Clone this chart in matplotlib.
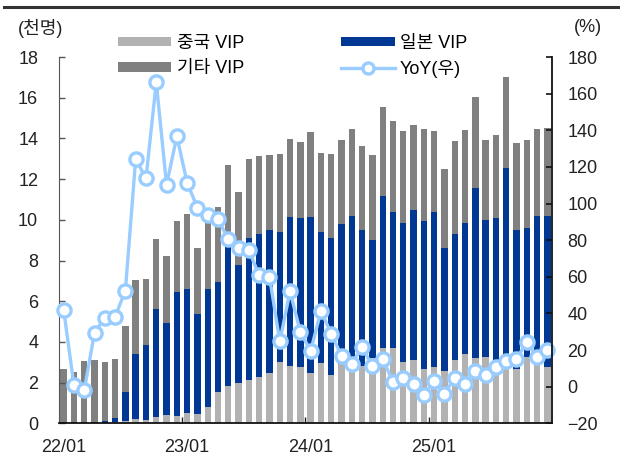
import matplotlib
matplotlib.use("Agg")
import matplotlib.pyplot as plt
import numpy as np
from matplotlib.lines import Line2D
from matplotlib.patches import Patch

plt.rcParams["font.family"] = ["Liberation Sans", "Noto Sans CJK KR"]

# 월별 VIP 방문객 (천명), 22/01 ~ 25/12
china = [0.03, 0.03, 0.03, 0.03, 0.03, 0.05, 0.13, 0.21, 0.16, 0.31, 0.41, 0.36,
         0.49, 0.44, 0.79, 1.56, 1.82, 1.97, 2.13, 2.26, 2.48, 3.03, 2.82, 2.78,
         2.46, 2.95, 2.38, 2.90, 2.87, 2.84, 3.23, 3.69, 3.72, 3.03, 3.11, 2.66,
         2.75, 2.57, 3.13, 3.39, 3.20, 3.28, 2.92, 3.16, 2.67, 3.28, 3.00, 2.75]
japan = [0.04, 0.03, 0.04, 0.04, 0.07, 0.23, 1.39, 3.20, 3.69, 5.31, 4.54, 6.10,
         6.13, 4.94, 5.80, 5.37, 6.92, 5.80, 6.98, 7.02, 7.03, 6.38, 7.34, 7.33,
         7.70, 6.43, 6.75, 6.90, 7.34, 6.64, 5.79, 7.49, 6.66, 6.79, 7.38, 7.29,
         7.63, 6.05, 6.18, 6.45, 8.37, 6.72, 7.15, 9.38, 6.81, 6.31, 7.18, 7.46]
other = [2.60, 2.48, 3.01, 3.04, 2.92, 2.90, 3.27, 3.61, 3.23, 3.43, 3.28, 3.49,
         3.66, 3.23, 3.51, 3.69, 3.93, 3.62, 3.87, 3.85, 3.69, 3.82, 3.79, 3.71,
         4.14, 3.90, 4.08, 4.12, 4.23, 4.16, 4.14, 4.34, 4.47, 4.56, 4.17, 4.49,
         3.98, 3.87, 4.58, 4.57, 4.45, 3.93, 4.11, 4.46, 4.29, 4.34, 4.30, 4.30]
# 전년동월대비 증감률 (%)
yoy = [42.1, 0.8, -2.0, 29.4, 37.6, 38.1, 52.5, 124.3, 113.7, 166.2, 110.1, 136.7,
       111.3, 97.7, 93.7, 91.3, 80.7, 75.8, 74.5, 60.7, 60.0, 24.8, 52.0, 29.9,
       19.5, 41.2, 29.0, 16.8, 12.6, 21.7, 11.1, 15.3, 2.5, 5.0, 1.7, -4.5,
       3.0, -4.0, 5.0, 1.7, 8.8, 6.4, 11.0, 14.0, 15.2, 24.4, 16.4, 20.1]

tick_pos = [0, 12, 24, 36]
tick_labels = ["22/01", "23/01", "24/01", "25/01"]

C_CHINA = "#B2B2B2"
C_JAPAN = "#003893"
C_OTHER = "#808080"
C_YOY = "#99CCFF"

W, H = 620, 457
fig = plt.figure(figsize=(W / 100, H / 100), dpi=100)
ax = fig.add_axes([59 / W, 1 - 423.3 / H, (552 - 59) / W, (423.3 - 57) / H])

x = np.arange(len(china))
china = np.array(china)
japan = np.array(japan)
other = np.array(other)

ax.bar(x, china, width=0.62, color=C_CHINA, linewidth=0)
ax.bar(x, japan, width=0.62, bottom=china, color=C_JAPAN, linewidth=0)
ax.bar(x, other, width=0.62, bottom=china + japan, color=C_OTHER, linewidth=0)

ax.set_xlim(-0.45, 47.45)
ax.set_ylim(0, 18)
ax.set_yticks(range(0, 19, 2))
ax.set_xticks(tick_pos, tick_labels)
ax.set_xticks([11.5, 23.5, 35.5], minor=True)
ax.tick_params(axis="x", which="major", length=0, pad=11, labelsize=13, labelcolor="#222222")
ax.tick_params(axis="x", which="minor", direction="in", length=4, width=1, color="#222222")
ax.tick_params(axis="y", direction="in", length=4, width=1, color="#555555", pad=15,
               labelsize=13, labelcolor="#222222")
ax.spines["top"].set_visible(False)
ax.spines["right"].set_visible(False)
ax.spines["left"].set_color("#555555")
ax.spines["bottom"].set_color("#111111")
ax.spines["bottom"].set_linewidth(1.3)

ax2 = ax.twinx()
ax2.plot(x, yoy, color=C_YOY, linewidth=2.4, marker="o", markersize=9.5,
         markerfacecolor="white", markeredgecolor=C_YOY, markeredgewidth=2.4,
         clip_on=False)
ax2.set_ylim(-20, 180)
ax2.set_yticks(range(-20, 181, 20))
ax2.tick_params(axis="y", direction="in", length=4, width=1.2, color="#111111", pad=11,
                labelsize=13, labelcolor="#222222")
for side in ("top", "left", "bottom"):
    ax2.spines[side].set_visible(False)
ax2.spines["right"].set_color("#111111")
ax2.spines["right"].set_linewidth(1.3)

handles = [
    Patch(facecolor=C_CHINA, linewidth=0),
    Patch(facecolor=C_OTHER, linewidth=0),
    Patch(facecolor=C_JAPAN, linewidth=0),
    Line2D([], [], color=C_YOY, linewidth=2.4, marker="o", markersize=8,
           markerfacecolor="white", markeredgecolor=C_YOY, markeredgewidth=2.4),
]
labels = ["중국 VIP", "기타 VIP", "일본 VIP", "YoY(우)"]
ax2.legend(handles, labels, ncol=2, loc="upper left",
           bbox_to_anchor=(118 / W, 1 - 35 / H), bbox_transform=fig.transFigure,
           frameon=False, fontsize=13, borderpad=0, borderaxespad=0,
           handlelength=2.95, handleheight=0.45, handletextpad=0.3,
           columnspacing=5.4, labelspacing=0.45)

fig.text(41 / W, 1 - 28 / H, "(천명)", ha="center", va="center", fontsize=13, color="#222222")
fig.text(588 / W, 1 - 27 / H, "(%)", ha="center", va="center", fontsize=13, color="#222222")
fig.add_artist(Line2D([4 / W, 1], [1 - 7 / H, 1 - 7 / H], color="#333333", linewidth=2.2))

fig.savefig("out.png", dpi=100)
